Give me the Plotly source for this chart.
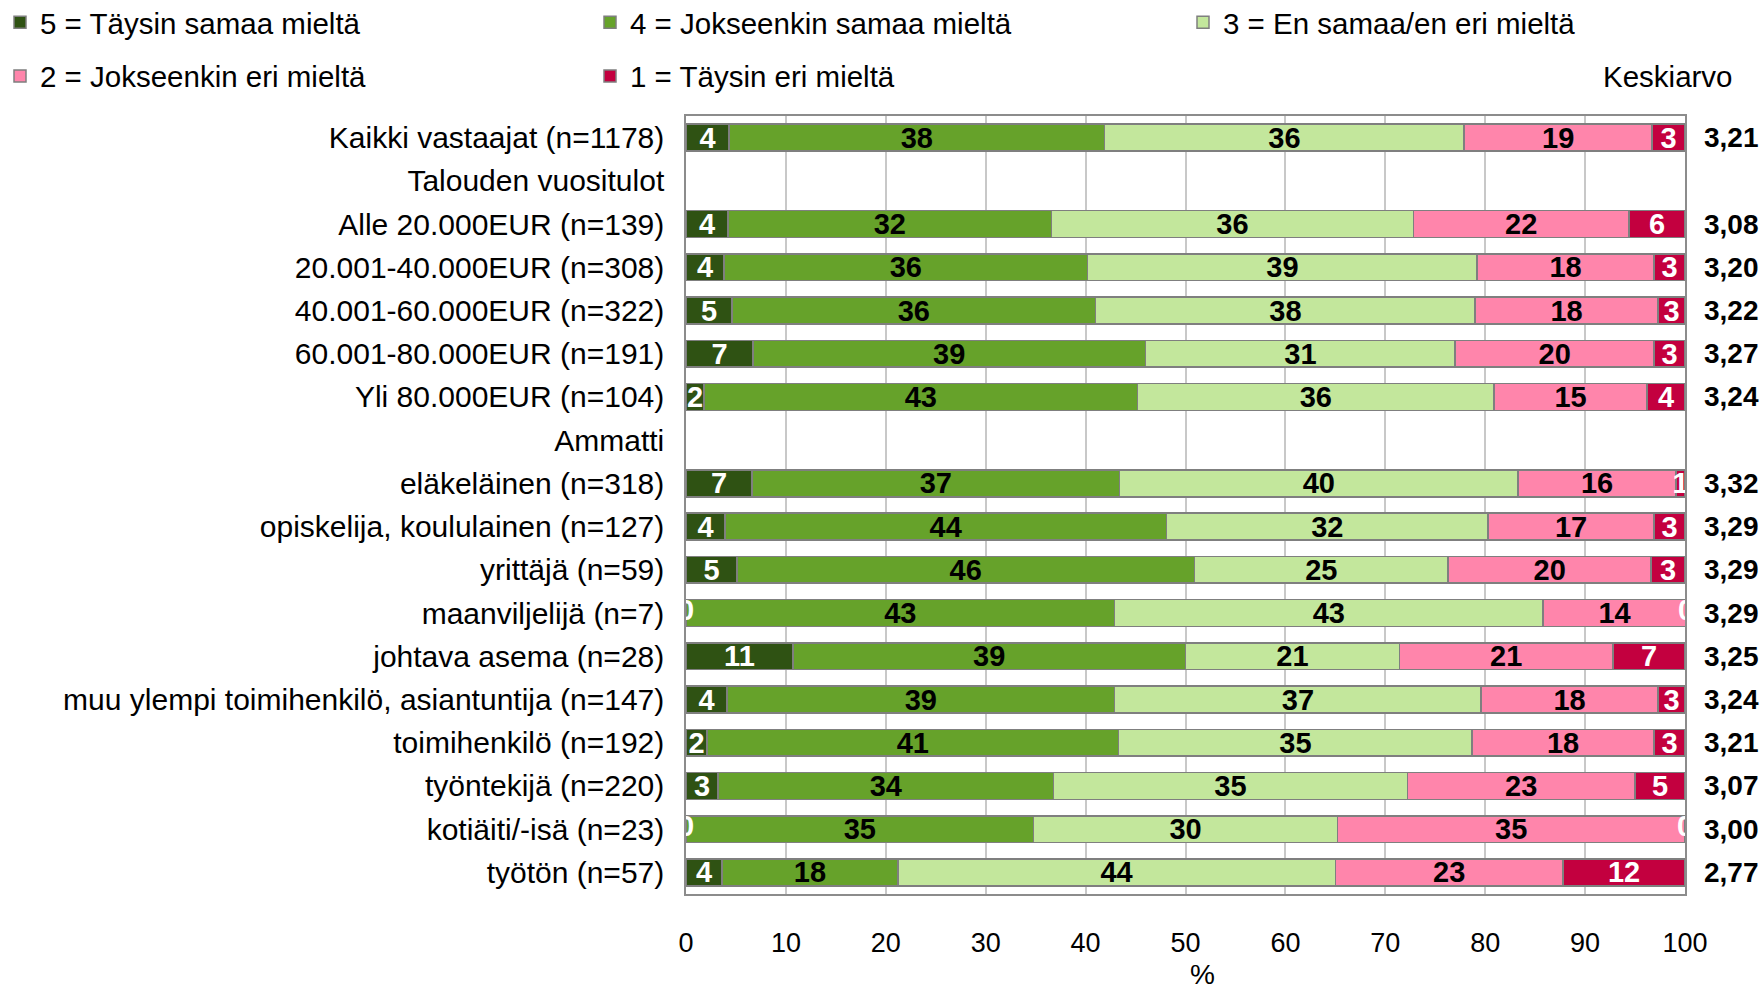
import plotly.graph_objects as go

categories = [
    "Kaikki vastaajat (n=1178)",
    "Talouden vuositulot",
    "Alle 20.000EUR (n=139)",
    "20.001-40.000EUR (n=308)",
    "40.001-60.000EUR (n=322)",
    "60.001-80.000EUR (n=191)",
    "Yli 80.000EUR (n=104)",
    "Ammatti",
    "eläkeläinen (n=318)",
    "opiskelija, koululainen (n=127)",
    "yrittäjä (n=59)",
    "maanviljelijä (n=7)",
    "johtava asema (n=28)",
    "muu ylempi toimihenkilö, asiantuntija (n=147)",
    "toimihenkilö (n=192)",
    "työntekijä (n=220)",
    "kotiäiti/-isä (n=23)",
    "työtön (n=57)",
]

series_names = [
    "5 = Täysin samaa mieltä",
    "4 = Jokseenkin samaa mieltä",
    "3 = En samaa/en eri mieltä",
    "2 = Jokseenkin eri mieltä",
    "1 = Täysin eri mieltä",
]

v5 = [4.3, None, 4.2, 3.8, 4.6, 6.7, 1.8, None, 6.6, 3.9, 5.1, 0, 10.7, 4.1, 2.1, 3.2, 0, 3.6]
v4 = [37.6, None, 32.4, 36.4, 36.4, 39.3, 43.4, None, 36.8, 44.2, 45.8, 42.9, 39.3, 38.8, 41.2, 33.6, 34.8, 17.6]
v3 = [36.0, None, 36.2, 39.0, 38.0, 31.0, 35.7, None, 39.9, 32.2, 25.4, 42.9, 21.4, 36.7, 35.4, 35.4, 30.4, 43.8]
v2 = [18.8, None, 21.6, 17.7, 18.3, 19.9, 15.3, None, 15.8, 16.6, 20.3, 14.3, 21.4, 17.7, 18.2, 22.8, 34.8, 22.8]
v1 = [3.3, None, 5.6, 3.1, 2.7, 3.1, 3.8, None, 0.9, 3.1, 3.4, 0, 7.2, 2.7, 3.1, 5.0, 0, 12.2]

means = [3.21, None, 3.08, 3.20, 3.22, 3.27, 3.24, None, 3.32, 3.29, 3.29, 3.29, 3.25, 3.24, 3.21, 3.07, 3.00, 2.77]

colors = ["#2f5213", "#66a22a", "#c3e79c", "#ff85ab", "#c3003f"]
text_colors = ["white", "black", "black", "black", "white"]

FONT = "Liberation Sans, Arial, sans-serif"

W, H = 1760, 994
ML, MR, MT, MB = 686, 75, 116, 100

# legend box left edges / row centres (pixels)
legend_pos = [(-4, 22.5), (590, 22.5), (1183, 22.5), (-4, 76.3), (590, 76.3)]

fig = go.Figure()
all_vals = [v5, v4, v3, v2, v1]
for i, (name, vals) in enumerate(zip(series_names, all_vals)):
    lg = "legend" if i == 0 else f"legend{i+1}"
    fig.add_trace(go.Bar(
        y=categories, x=vals, orientation="h", name=name,
        marker=dict(color=colors[i], line=dict(color="#7f7f7f", width=1.5)),
        texttemplate="%{x:.0f}", textposition="inside", insidetextanchor="middle",
        constraintext="none", textangle=0, cliponaxis=True,
        textfont=dict(family=FONT, size=29, color=text_colors[i], weight="bold"),
        legend=lg, hoverinfo="skip",
    ))

# labels of zero-width segments (drawn at their stacked position, clipped by the plot area)
zx, zy, zt, zc = [], [], [], []
for ci, cat in enumerate(categories):
    if v5[ci] is None:
        continue
    cum = 0.0
    for si, vals in enumerate(all_vals):
        if vals[ci] == 0:
            zx.append(cum)
            zy.append(cat)
            zt.append("0")
            zc.append(text_colors[si])
        cum += vals[ci]
fig.add_trace(go.Scatter(
    x=zx, y=zy, text=zt, mode="text", textposition="middle center",
    textfont=dict(family=FONT, size=29, color=zc, weight="bold"),
    showlegend=False, hoverinfo="skip", cliponaxis=True,
))

layout_legends = {}
for i, (px, py) in enumerate(legend_pos):
    key = "legend" if i == 0 else f"legend{i+1}"
    layout_legends[key] = dict(
        xref="container", yref="container",
        x=px / W, y=1 - py / H, xanchor="left", yanchor="middle",
        orientation="h", bgcolor="rgba(0,0,0,0)", borderwidth=0,
        font=dict(family=FONT, size=29.5, color="black"),
        itemwidth=30,
    )

annotations = []
for cat, m in zip(categories, means):
    if m is None:
        continue
    annotations.append(dict(
        x=1, xref="paper", y=cat, yref="y", xanchor="left", yanchor="middle",
        xshift=17, showarrow=False,
        text=f"{m:.2f}".replace(".", ","),
        font=dict(family=FONT, size=28, color="black", weight="bold"),
    ))
annotations.append(dict(
    x=1, xref="paper", y=1, yref="paper", xanchor="right", yanchor="middle",
    xshift=50, yshift=MT - 76, showarrow=False, text="Keskiarvo",
    font=dict(family=FONT, size=29.5, color="black"),
))
annotations.append(dict(
    x=0.517, xref="paper", y=0, yref="paper", xanchor="center", yanchor="middle",
    yshift=-80, showarrow=False, text="%",
    font=dict(family=FONT, size=28, color="black"),
))

fig.update_layout(
    width=W, height=H,
    margin=dict(l=ML, r=MR, t=MT, b=MB, autoexpand=False),
    barmode="stack", bargap=0.38,
    uniformtext=dict(minsize=29, mode="show"),
    plot_bgcolor="white", paper_bgcolor="white",
    font=dict(family=FONT, size=29, color="black"),
    annotations=annotations,
    showlegend=True,
    xaxis=dict(
        range=[0, 100], dtick=10, tick0=0,
        showgrid=True, gridcolor="#c8c8c8", gridwidth=1.5,
        showline=True, linecolor="#8c8c8c", linewidth=1.5, mirror=True,
        zeroline=False, ticks="", ticklabelstandoff=24,
        tickfont=dict(family=FONT, size=27, color="black"),
        fixedrange=True,
    ),
    yaxis=dict(
        type="category", categoryorder="array", categoryarray=categories,
        range=[17.5, -0.5],
        showgrid=False, showline=True, linecolor="#8c8c8c", linewidth=1.5, mirror=True,
        zeroline=False, ticks="", ticklabelstandoff=14,
        tickfont=dict(family=FONT, size=30, color="black"),
        fixedrange=True,
    ),
    **layout_legends,
)

fig.write_html(
    "out.html",
    config={"displayModeBar": False},
    post_script="document.body.style.margin='0';document.body.style.overflow='hidden';",
)
